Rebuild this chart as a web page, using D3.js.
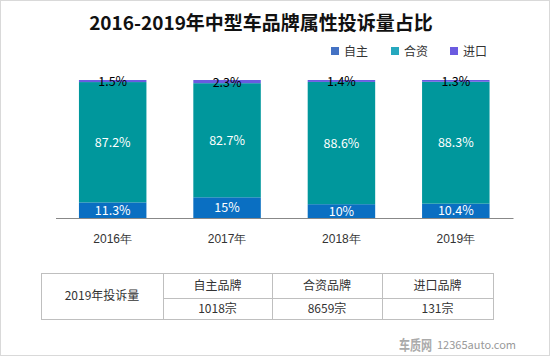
<!DOCTYPE html>
<html><head><meta charset="utf-8">
<script src="https://cdn.jsdelivr.net/npm/d3@7/dist/d3.min.js"></script>
<style>body{margin:0;background:#fff}svg{display:block;font-family:"Noto Sans CJK SC","Noto Sans",sans-serif}</style>
</head><body>
<script>
const years = ["2016年","2017年","2018年","2019年"];
const seriesNames = ["自主","合资","进口"];
const ziZhu = [11.3, 15, 10, 10.4];
const heZi = [87.2, 82.7, 88.6, 88.3];
const jinKou = [1.5, 2.3, 1.4, 1.3];
const labels = {
  "自主": ["11.3%","15%","10%","10.4%"],
  "合资": ["87.2%","82.7%","88.6%","88.3%"],
  "进口": ["1.5%","2.3%","1.4%","1.3%"]
};
const tableHeader = ["2019年投诉量","自主品牌","合资品牌","进口品牌"];
const tableValues = ["1018宗","8659宗","131宗"];

const barColors = ["#0A6FC2","#00979C","#6A5CE0"];
const legendColors = ["#4472C4","#26A8BE","#6B5BE0"];
const labelColors = ["#fff","#fff","#000"];

const W=550,H=356;
const svg = d3.select("body").append("svg").attr("width",W).attr("height",H);
svg.append("rect").attr("x",0.5).attr("y",0.5).attr("width",W-1).attr("height",H-1)
  .attr("fill","#fff").attr("stroke","#d9d9d9");

svg.append("text").attr("x",261).attr("y",30).attr("text-anchor","middle")
  .attr("font-size",19).attr("font-weight","bold").attr("fill","#111")
  .text("2016-2019年中型车品牌属性投诉量占比");

// legend
const legX=[331,391,450];
seriesNames.forEach((s,i)=>{
  svg.append("rect").attr("x",legX[i]).attr("y",47).attr("width",8).attr("height",8).attr("fill",legendColors[i]);
  svg.append("text").attr("x",legX[i]+13).attr("y",55.5).attr("font-size",12).attr("fill","#333").text(s);
});

const x = d3.scaleBand().domain(years).range([55.5,513]).paddingInner(0.41).paddingOuter(0.205);
const y = d3.scaleLinear().domain([0,100]).range([218,80]);

const data = years.map((yr,i)=>({year:yr,"自主":ziZhu[i],"合资":heZi[i],"进口":jinKou[i],idx:i}));
const stack = d3.stack().keys(seriesNames)(data);

stack.forEach((layer,si)=>{
  const g = svg.append("g");
  g.selectAll("rect").data(layer).join("rect")
    .attr("x",d=>x(d.data.year)).attr("width",x.bandwidth())
    .attr("y",d=>y(d[1])).attr("height",d=>y(d[0])-y(d[1]))
    .attr("fill",barColors[si]);
  g.selectAll("text").data(layer).join("text")
    .attr("x",d=>x(d.data.year)+x.bandwidth()/2)
    .attr("y",d=>(y(d[0])+y(d[1]))/2 + (si===2?5:4.5))
    .attr("text-anchor","middle").attr("font-size",12.5)
    .attr("fill",labelColors[si])
    .text(d=>labels[seriesNames[si]][d.data.idx]);
});

svg.append("g").attr("transform","translate(0,218)")
  .call(d3.axisBottom(x).tickSize(0).tickPadding(16))
  .call(g=>{g.select(".domain").attr("stroke","#888");
    g.selectAll("text").attr("font-size",12).attr("fill","#333").attr("font-family","inherit");});

// table
const colX=[41,163,272,382,493];
const rowY=[273,298,319];
const tg = svg.append("g").attr("stroke","#bfbfbf").attr("fill","none");
tg.append("rect").attr("x",colX[0]+0.5).attr("y",rowY[0]+0.5).attr("width",colX[4]-colX[0]).attr("height",rowY[2]-rowY[0]);
colX.slice(1,4).forEach(cx=>tg.append("line").attr("x1",cx+0.5).attr("x2",cx+0.5).attr("y1",rowY[0]).attr("y2",rowY[2]));
tg.append("line").attr("x1",colX[1]).attr("x2",colX[4]).attr("y1",rowY[1]+0.5).attr("y2",rowY[1]+0.5);

svg.append("text").attr("x",(colX[0]+colX[1])/2).attr("y",300).attr("text-anchor","middle")
  .attr("font-size",12).attr("fill","#333").text(tableHeader[0]);
[1,2,3].forEach(i=>{
  svg.append("text").attr("x",(colX[i]+colX[i+1])/2).attr("y",290).attr("text-anchor","middle")
    .attr("font-size",12).attr("fill","#333").text(tableHeader[i]);
  svg.append("text").attr("x",(colX[i]+colX[i+1])/2).attr("y",313).attr("text-anchor","middle")
    .attr("font-size",12).attr("fill","#333").text(tableValues[i-1]);
});

// watermark
svg.append("text").attr("x",399).attr("y",350).attr("font-size",14).attr("font-weight","bold")
  .attr("fill","#aaa").attr("textLength",33).attr("lengthAdjust","spacingAndGlyphs").text("车质网");
svg.append("text").attr("x",437).attr("y",349).attr("font-size",11).attr("fill","#999")
  .text("12365auto.com");
</script>
</body></html>
